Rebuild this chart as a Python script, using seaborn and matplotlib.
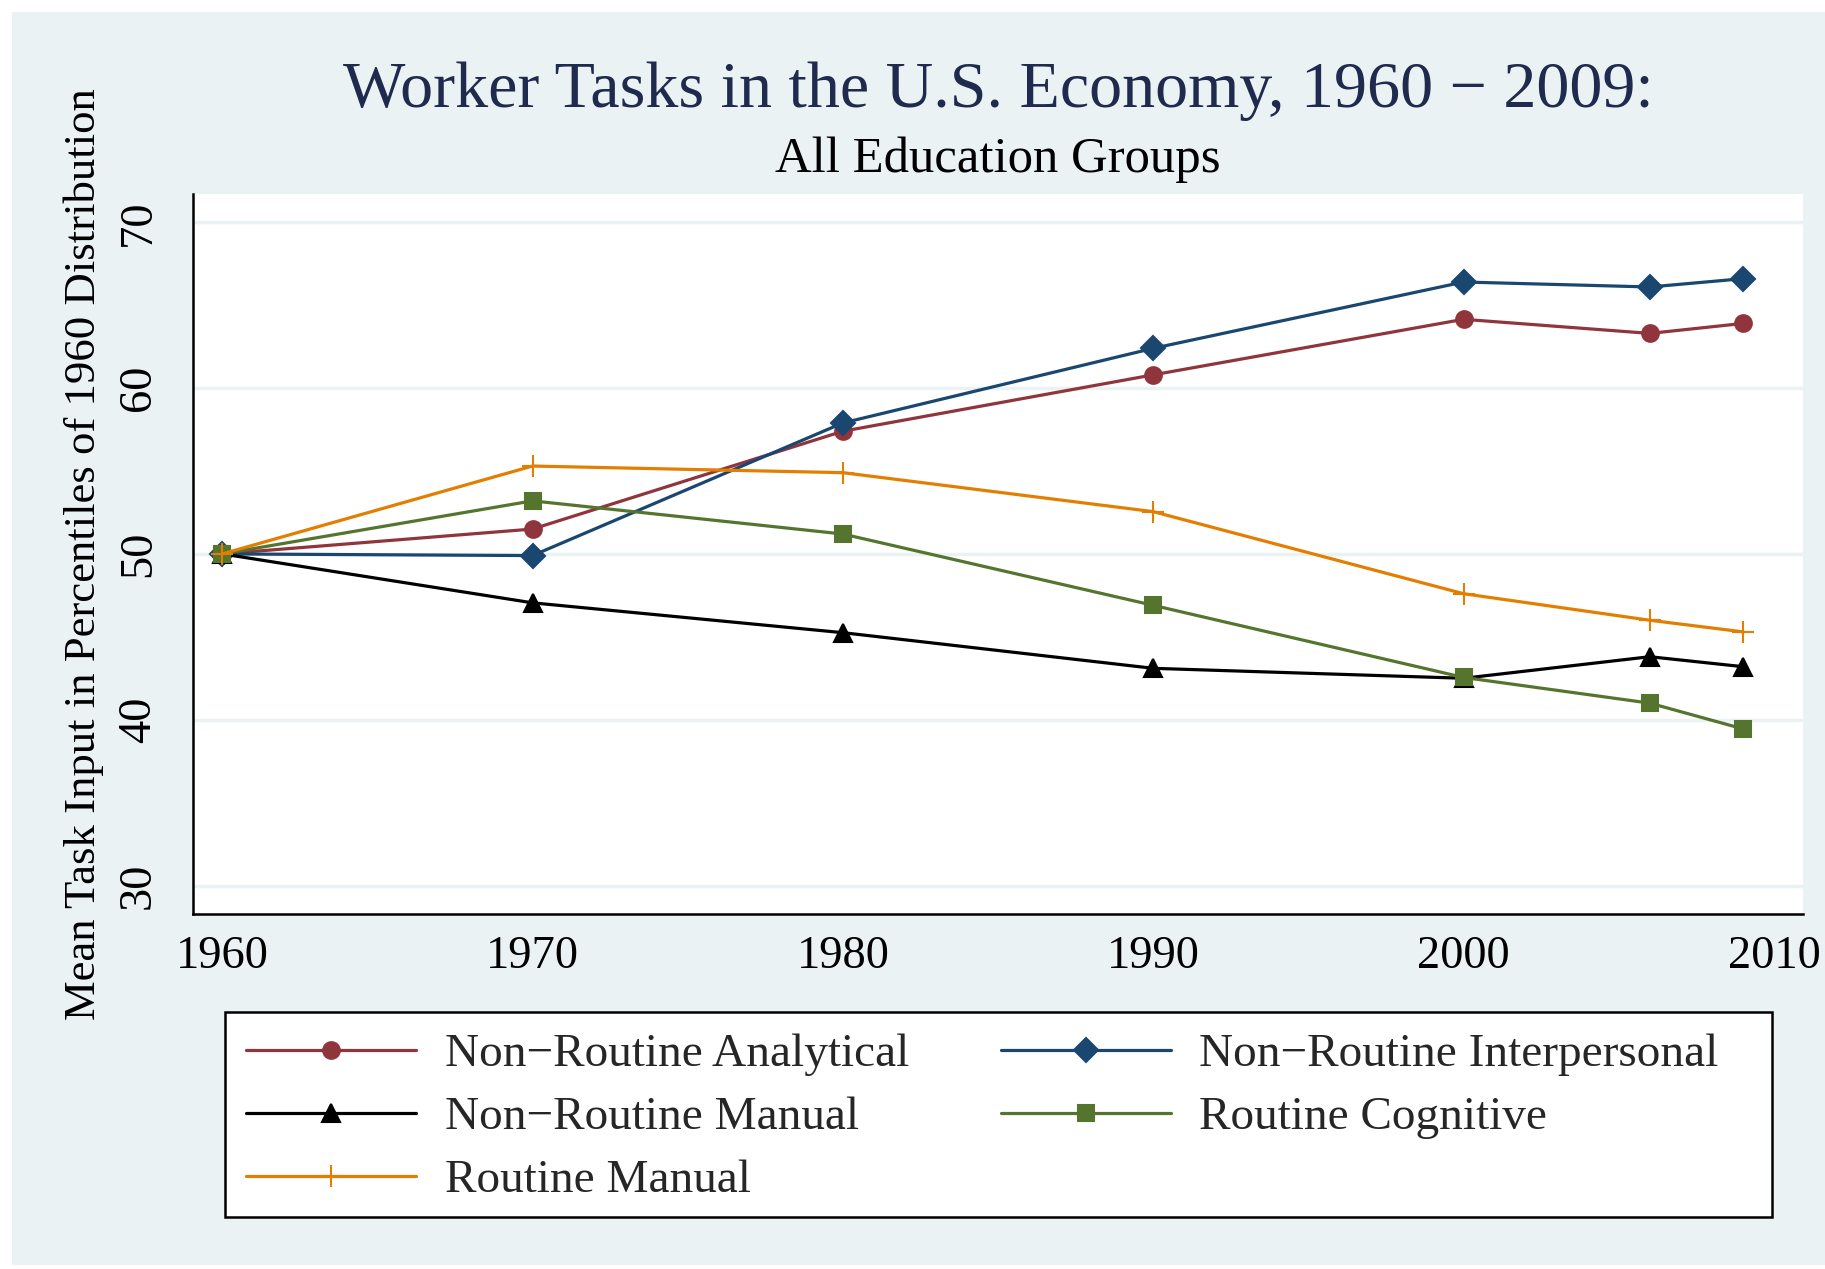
import pandas as pd
import matplotlib
matplotlib.use('Agg')
import matplotlib.pyplot as plt
import seaborn as sns
from matplotlib.patches import Rectangle

years = [1960, 1970, 1980, 1990, 2000, 2006, 2009]
series_names = ['Non\u2212Routine Analytical', 'Non\u2212Routine Interpersonal',
                'Non\u2212Routine Manual', 'Routine Cognitive', 'Routine Manual']
nr_analytical = [50.0, 51.5, 57.4, 60.8, 64.15, 63.3, 63.9]
nr_interpersonal = [50.0, 49.9, 57.9, 62.4, 66.4, 66.1, 66.6]
nr_manual = [50.0, 47.05, 45.25, 43.1, 42.5, 43.8, 43.2]
r_cognitive = [50.0, 53.2, 51.2, 46.9, 42.55, 41.0, 39.45]
r_manual = [50.0, 55.3, 54.9, 52.55, 47.6, 46.0, 45.3]
x_ticks = [1960, 1970, 1980, 1990, 2000, 2010]
y_ticks = [30, 40, 50, 60, 70]

colors = ['#90353B', '#1A476F', '#000000', '#55752F', '#E37E00']
markers = ['o', 'D', '^', 's', '+']
msizes = [12, 12, 13, 12, 16]

all_vals = [nr_analytical, nr_interpersonal, nr_manual, r_cognitive, r_manual]
df = pd.DataFrame({'year': years})
for name, vals in zip(series_names, all_vals):
    df[name] = vals

sns.set_style('white')
plt.rcParams['font.family'] = ['Liberation Serif', 'DejaVu Serif']

W, H = 1825, 1269
bg = '#EAF2F3'
fig = plt.figure(figsize=(W / 100, H / 100), dpi=100)
fig.patch.set_facecolor('white')
fig.patches.append(Rectangle((12 / W, 0.003), 1 - 12 / W, 1 - 12 / H - 0.003,
                             transform=fig.transFigure, facecolor=bg, edgecolor='none', zorder=-10))

ax = fig.add_axes([193.3 / W, 1 - 913.7 / H, (1803.4 - 193.3) / W, (913.7 - 193.8) / H])
ax.set_facecolor('white')

for name, c, m, ms in zip(series_names, colors, markers, msizes):
    sns.lineplot(data=df, x='year', y=name, color=c, marker=m, markersize=ms,
                 markeredgecolor=c, markerfacecolor=c, markeredgewidth=1.5,
                 linewidth=2.3, label=name, ax=ax)

ax.set_xlim(1959.07, 2010.95)
ax.set_ylim(28.3, 71.72)
ax.set_xticks(x_ticks)
ax.set_yticks(y_ticks)
ax.grid(axis='y', color=bg, linewidth=2.5)
ax.set_axisbelow(True)
for s in ['top', 'right']:
    ax.spines[s].set_visible(False)
for s in ['left', 'bottom']:
    ax.spines[s].set_color('black')
    ax.spines[s].set_linewidth(1.8)
ax.tick_params(axis='both', direction='out', length=10, width=1.5, color='black',
               labelsize=33.5, labelcolor='black')
ax.tick_params(axis='x', pad=6)
ax.tick_params(axis='y', pad=14)
for lab in ax.get_yticklabels():
    lab.set_rotation(90)
    lab.set_va('center')
ax.set_xlabel('')
ax.set_ylabel('')

fig.text(998 / W, 1 - 107 / H, 'Worker Tasks in the U.S. Economy, 1960 \u2212 2009:',
         ha='center', va='baseline', fontsize=47.5, color='#1F2A4E')
fig.text(998 / W, 1 - 172 / H, 'All Education Groups',
         ha='center', va='baseline', fontsize=36.5, color='black')
fig.text(84 / W, 1 - 553.7 / H, 'Mean Task Input in Percentiles of 1960 Distribution',
         ha='center', va='center', rotation=90, fontsize=32.2, color='black')

# legend box drawn separately so it spans the width like the original
fig.patches.append(Rectangle((225 / W, 1 - 1217 / H), (1772 - 225) / W, (1217 - 1012) / H,
                             transform=fig.transFigure, facecolor='white', edgecolor='black',
                             linewidth=1.8, zorder=1))

# row-major legend order, as in the original
handles, labels = ax.get_legend_handles_labels()
order = [0, 2, 4, 1, 3]
ax.get_legend().remove()
leg = fig.legend([handles[i] for i in order], [labels[i] for i in order], ncol=2,
                 loc='upper left', bbox_to_anchor=(225 / W, 1 - 1012 / H),
                 fontsize=34, frameon=False,
                 handlelength=3.6, handletextpad=0.6, columnspacing=1.95,
                 labelspacing=0.42, borderpad=0.45, borderaxespad=0)
leg.set_zorder(5)

fig.savefig('out.png', dpi=100, facecolor=fig.get_facecolor())
